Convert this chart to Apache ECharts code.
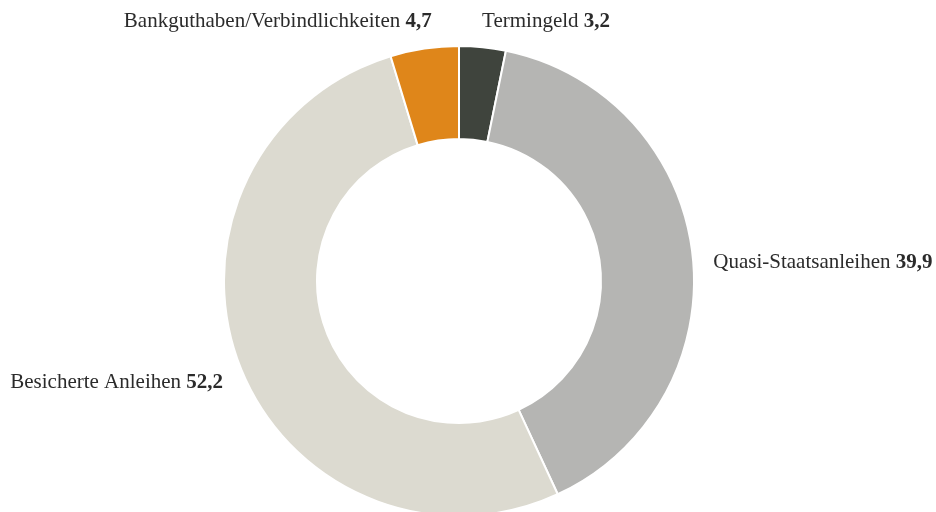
<!DOCTYPE html>
<html>
<head>
<meta charset="utf-8">
<script src="https://cdn.jsdelivr.net/npm/echarts@6/dist/echarts.min.js"></script>
<style>
  html, body {margin: 0; padding: 0; background: #fff;}
  #chart {width: 936px; height: 512px;}
</style>
</head>
<body>
<div id="chart"></div>
<script>
const categories = ['Termingeld', 'Quasi-Staatsanleihen', 'Besicherte Anleihen', 'Bankguthaben/Verbindlichkeiten'];
const values = [3.2, 39.9, 52.2, 4.7];
const colors = ['#3f443d', '#b5b5b3', '#dcdad0', '#df861a'];
// small nudges so the labels sit where the original puts them
const labelNudge = [[-3, -1], [-4, 12], [7, 9], [11, -2]];

const myChart = echarts.init(document.getElementById('chart'));

myChart.setOption({
  animation: false,
  color: colors,
  series: [{
    type: 'pie',
    center: [459, 281],
    radius: [142, 235],
    startAngle: 90,
    clockwise: true,
    avoidLabelOverlap: false,
    itemStyle: {borderColor: '#fff', borderWidth: 2},
    label: {
      show: true,
      position: 'outside',
      distanceToLabelLine: 0,
      fontFamily: 'Liberation Serif',
      fontSize: 21,
      color: '#2b2b2b',
      formatter(p) {
        return p.name + ' {v|' + p.value.toFixed(1).replace('.', ',') + '}';
      },
      rich: {
        v: {fontFamily: 'Liberation Serif', fontSize: 21, fontWeight: 'bold', color: '#2b2b2b'}
      }
    },
    labelLine: {show: false, length: 25, length2: 0},
    labelLayout(params) {
      const n = labelNudge[params.dataIndex];
      return {dx: n[0], dy: n[1]};
    },
    emphasis: {disabled: true},
    data: categories.map((name, i) => ({name, value: values[i]}))
  }]
});
</script>
</body>
</html>
